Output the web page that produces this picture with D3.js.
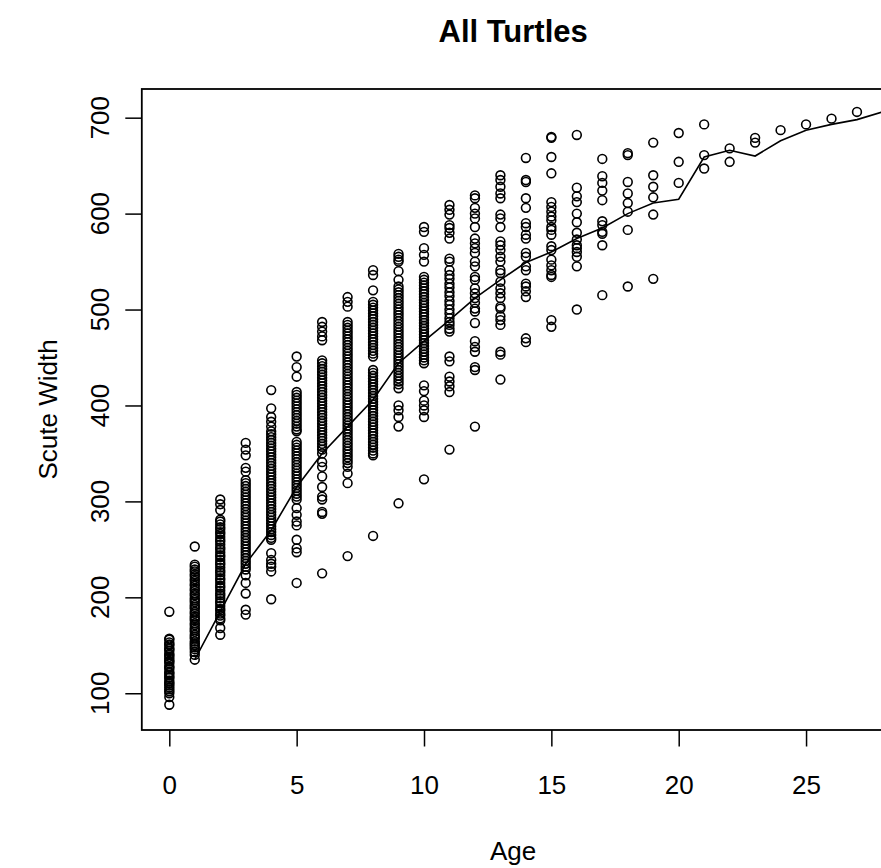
<!DOCTYPE html>
<html>
<head>
<meta charset="utf-8">
<script src="https://cdn.jsdelivr.net/npm/d3@7"></script>
<style>
  body { margin: 0; background: #fff; }
  svg { display: block; font-family: "Liberation Sans", Arial, sans-serif; }
</style>
</head>
<body>
<div class="container"></div>
<script>
// scute width per age (age = position in the list below)
const w0 = [185, 157, 156, 153, 151, 150, 147, 146, 144, 141, 140, 138, 136, 134, 133, 131, 128, 127, 125, 122, 121, 119, 117, 116, 113, 111, 110, 108, 106, 104, 102, 100, 96, 88];
const w1 = [253, 234, 232, 229, 227, 224, 222, 219, 217, 214, 212, 209, 207, 204, 202, 199, 197, 195, 192, 190, 188, 185, 183, 180, 178, 176, 173, 171, 168, 166, 164, 161, 159, 157, 154, 152, 150, 148, 146, 143, 140, 135];
const w2 = [302, 297, 291, 281, 279, 276, 273, 271, 268, 266, 263, 260, 258, 255, 252, 250, 247, 244, 242, 239, 236, 234, 231, 228, 226, 223, 220, 218, 215, 212, 210, 207, 204, 202, 199, 196, 194, 191, 188, 186, 183, 181, 178, 176, 168, 161];
const w3 = [361, 354, 348, 335, 331, 322, 319, 316, 313, 310, 307, 304, 301, 298, 295, 292, 289, 286, 283, 280, 277, 274, 271, 268, 265, 262, 259, 256, 253, 250, 247, 244, 241, 238, 235, 232, 229, 223, 215, 204, 187, 182];
const w4 = [416, 397, 388, 383, 378, 373, 370, 367, 364, 361, 358, 355, 352, 349, 346, 343, 340, 337, 334, 331, 328, 325, 322, 319, 316, 313, 310, 307, 304, 301, 298, 295, 292, 289, 286, 283, 280, 277, 274, 271, 268, 265, 262, 260, 246, 239, 235, 232, 227, 198];
const w5 = [451, 440, 430, 414, 411, 408, 405, 402, 399, 396, 393, 390, 387, 384, 381, 378, 375, 373, 362, 359, 356, 353, 350, 347, 344, 341, 338, 335, 332, 329, 326, 323, 320, 317, 314, 311, 308, 305, 302, 293, 286, 279, 275, 260, 251, 247, 215];
const w6 = [487, 482, 477, 472, 468, 447, 444, 441, 438, 435, 432, 429, 426, 423, 420, 417, 414, 411, 408, 405, 402, 399, 396, 393, 390, 387, 384, 381, 378, 375, 372, 369, 366, 363, 360, 357, 354, 350, 341, 336, 326, 315, 305, 302, 289, 287, 225];
const w7 = [513, 508, 503, 487, 484, 481, 478, 475, 472, 469, 466, 463, 460, 457, 454, 451, 448, 445, 442, 439, 436, 433, 430, 427, 424, 421, 418, 415, 412, 409, 406, 403, 400, 397, 394, 391, 388, 385, 382, 379, 376, 373, 370, 367, 364, 361, 358, 355, 352, 349, 346, 343, 340, 336, 329, 319, 243];
const w8 = [541, 536, 520, 508, 505, 502, 499, 496, 493, 490, 487, 484, 481, 478, 475, 472, 469, 466, 463, 460, 457, 454, 451, 437, 434, 431, 428, 425, 422, 419, 416, 413, 410, 407, 404, 401, 398, 395, 392, 389, 386, 383, 380, 377, 374, 371, 368, 365, 362, 359, 356, 353, 350, 348, 264];
const w9 = [558, 555, 552, 550, 540, 531, 524, 521, 518, 515, 512, 509, 506, 503, 500, 497, 494, 491, 488, 485, 482, 479, 476, 473, 470, 467, 464, 461, 458, 455, 452, 449, 446, 443, 440, 437, 434, 431, 428, 425, 422, 418, 400, 395, 388, 378, 298];
const w10 = [586, 581, 564, 557, 550, 534, 531, 528, 525, 522, 519, 516, 513, 510, 507, 504, 501, 498, 495, 492, 489, 486, 483, 480, 477, 474, 471, 468, 465, 462, 459, 456, 453, 450, 447, 444, 421, 415, 405, 400, 395, 388, 323];
const w11 = [609, 604, 599, 588, 585, 580, 574, 553, 550, 541, 536, 532, 527, 523, 518, 514, 509, 505, 500, 496, 491, 487, 484, 480, 477, 451, 446, 430, 425, 420, 414, 354];
const w12 = [619, 616, 606, 600, 595, 586, 574, 569, 564, 559, 550, 545, 534, 531, 522, 517, 512, 507, 501, 498, 486, 467, 461, 456, 440, 437, 378];
const w13 = [640, 635, 628, 621, 616, 599, 595, 586, 571, 567, 562, 555, 550, 541, 538, 529, 522, 517, 512, 503, 501, 493, 489, 484, 456, 453, 427];
const w14 = [658, 635, 633, 616, 606, 590, 586, 578, 574, 559, 555, 545, 541, 527, 524, 519, 513, 470, 466];
const w15 = [680, 679, 659, 642, 612, 607, 602, 597, 593, 586, 583, 578, 566, 562, 552, 546, 541, 536, 534, 489, 482];
const w16 = [682, 627, 618, 612, 600, 591, 580, 573, 567, 564, 560, 555, 545, 500];
const w17 = [657, 639, 632, 624, 614, 592, 588, 581, 579, 567, 515];
const w18 = [663, 661, 633, 621, 611, 602, 583, 524];
const w19 = [674, 640, 628, 617, 599, 532];
const w20 = [684, 654, 632];
const w21 = [693, 661, 647];
const w22 = [668, 654];
const w23 = [679, 674];
const w24 = [687];
const w25 = [693];
const w26 = [699];
const w27 = [706];

const columns = [w0, w1, w2, w3, w4, w5, w6, w7, w8, w9, w10, w11, w12, w13, w14, w15, w16, w17, w18, w19, w20, w21, w22, w23, w24, w25, w26, w27];

// fitted curve
const fitAge = [1, 2, 3, 4, 5, 6, 7, 8, 9, 10, 11, 12, 13, 14, 15, 16, 17, 18, 19, 20, 21, 22, 23, 24, 25, 26, 27, 28];
const fitWidth = [135, 185, 235, 270, 315, 350, 378, 406, 444, 467, 489, 512, 531, 549, 560, 574, 585, 600, 611, 615, 659, 666, 660, 676, 687, 693, 698, 706];

const xTicks = [0, 5, 10, 15, 20, 25];
const yTicks = [100, 200, 300, 400, 500, 600, 700];

const width = 881;
const height = 868;
const plot = { left: 141.8, right: 884.5, top: 89, bottom: 730 };

const points = columns.flatMap((vals, age) => vals.map(v => ({ age: age, w: v })));

const x = d3.scaleLinear().domain([-1.08, 28.08]).range([plot.left, plot.right]);
const y = d3.scaleLinear().domain([61.7, 729.9]).range([plot.bottom, plot.top]);

const svg = d3
  .select('.container')
  .append('svg')
  .attr('width', width)
  .attr('height', height);

svg
  .append('clipPath')
  .attr('id', 'clip')
  .append('rect')
  .attr('x', plot.left)
  .attr('y', plot.top)
  .attr('width', plot.right - plot.left)
  .attr('height', plot.bottom - plot.top);

const graph = svg.append('g').attr('clip-path', 'url(#clip)');

graph
  .selectAll('circle')
  .data(points)
  .enter()
  .append('circle')
  .attr('cx', d => x(d.age))
  .attr('cy', d => y(d.w))
  .attr('r', 4.4)
  .attr('fill', 'none')
  .attr('stroke', '#000')
  .attr('stroke-width', 1.6);

const line = d3
  .line()
  .x((d, i) => x(fitAge[i]))
  .y(d => y(d));

graph
  .append('path')
  .datum(fitWidth)
  .attr('d', line)
  .attr('fill', 'none')
  .attr('stroke', '#000')
  .attr('stroke-width', 1.6);

// box
svg
  .append('rect')
  .attr('x', plot.left)
  .attr('y', plot.top)
  .attr('width', plot.right - plot.left)
  .attr('height', plot.bottom - plot.top)
  .attr('fill', 'none')
  .attr('stroke', '#000')
  .attr('stroke-width', 1.8);

// x axis
const xAxis = svg
  .append('g')
  .attr('transform', `translate(0, ${plot.bottom})`)
  .call(d3.axisBottom(x).tickValues(xTicks).tickSize(16.5).tickPadding(29.5));
xAxis.select('.domain').remove();
xAxis.selectAll('line').attr('stroke-width', 1.5);
xAxis.selectAll('text').attr('font-size', 26).attr('font-family', 'Liberation Sans, Arial, sans-serif').attr('fill', '#000');

// y axis
const yAxis = svg
  .append('g')
  .attr('transform', `translate(${plot.left}, 0)`)
  .call(d3.axisLeft(y).tickValues(yTicks).tickSize(16.5).tickFormat(''));
yAxis.select('.domain').remove();
yAxis.selectAll('line').attr('stroke-width', 1.5);

svg
  .selectAll('.ylab')
  .data(yTicks)
  .enter()
  .append('text')
  .attr('class', 'ylab')
  .attr('transform', d => `translate(109, ${y(d)}) rotate(-90)`)
  .attr('text-anchor', 'middle')
  .attr('font-size', 26)
  .text(d => d);

// titles
svg
  .append('text')
  .attr('x', (plot.left + plot.right) / 2)
  .attr('y', 42)
  .attr('text-anchor', 'middle')
  .attr('font-size', 31)
  .attr('font-weight', 'bold')
  .text('All Turtles');

svg
  .append('text')
  .attr('x', (plot.left + plot.right) / 2)
  .attr('y', 860)
  .attr('text-anchor', 'middle')
  .attr('font-size', 26)
  .text('Age');

svg
  .append('text')
  .attr('transform', `translate(57, ${(plot.top + plot.bottom) / 2}) rotate(-90)`)
  .attr('text-anchor', 'middle')
  .attr('font-size', 26)
  .text('Scute Width');
</script>
</body>
</html>
